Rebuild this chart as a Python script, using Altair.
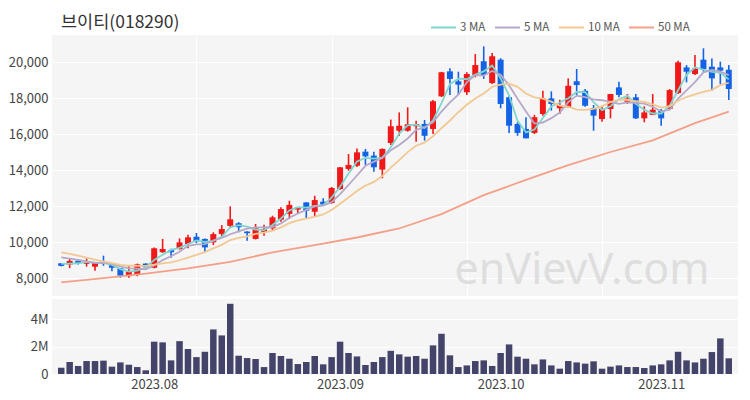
import altair as alt
import pandas as pd

# ---------------- data ----------------
opens = [8820, 8750, 8950, 8790, 8630, 8900, 8740, 8540, 8100, 8220,
         8800, 8570, 9430, 9560, 9610, 9890, 10290, 10170, 9980, 10440,
         10900, 11040, 10580, 10170, 10570, 10760, 11240, 11560, 11800, 12200,
         11680, 12240, 12170, 12940, 14060, 14240, 15020, 14800, 14020, 15500,
         16180, 16180, 16430, 16560, 16280, 18090, 19480, 18930, 18320, 19280,
         20040, 18830, 20130, 18040, 16560, 16280, 16060, 17110, 17980, 17430,
         17480, 18930, 18400, 17430, 16830, 17390, 18590, 17790, 18040, 16870,
         17060, 17290, 17390, 18280, 19700, 19330, 20130, 19740, 19700, 19570]
highs = [8830, 9100, 9020, 9090, 8850, 9240, 8760, 8560, 8680, 8800,
         8820, 9700, 10170, 9620, 10200, 10400, 10500, 10200, 10540, 10940,
         11980, 11100, 10600, 11000, 10960, 11460, 11930, 12290, 11950, 12210,
         12570, 12430, 13060, 14170, 14890, 15200, 15170, 15020, 15200, 16800,
         17200, 17480, 16740, 16780, 17890, 19450, 19650, 19460, 19430, 20440,
         20870, 20500, 20210, 18130, 16650, 16930, 17060, 18400, 18370, 17900,
         19090, 19610, 18500, 17610, 17570, 18230, 18900, 18220, 18220, 17540,
         18220, 17390, 18500, 20070, 19830, 20390, 20760, 20200, 20020, 19830]
lows = [8650, 8550, 8750, 8630, 8400, 8680, 8370, 8020, 8020, 8100,
        8520, 8540, 9400, 9130, 9570, 9650, 9940, 9430, 9830, 10220,
        10820, 10540, 10070, 10140, 10350, 10630, 11130, 11280, 11560, 11320,
        11430, 12010, 12120, 12900, 13960, 14170, 14280, 13900, 13540, 15390,
        15900, 16130, 15570, 15630, 16000, 18060, 18170, 18170, 18170, 19150,
        19060, 18780, 17430, 16050, 15900, 15760, 16000, 17020, 17300, 17110,
        17480, 18170, 17520, 16180, 16680, 16870, 18040, 17670, 16830, 16650,
        17050, 16460, 17350, 18220, 18870, 19280, 19460, 18400, 18780, 17890]
closes = [8670, 8950, 8830, 8900, 8830, 8780, 8570, 8130, 8350, 8760,
          8600, 9650, 9610, 9430, 9980, 10260, 10040, 9700, 10440, 10720,
          11260, 10820, 10490, 10760, 10720, 11370, 11830, 12060, 11930, 11740,
          12330, 12070, 13000, 14150, 14280, 14980, 14760, 14150, 15170, 16430,
          16460, 16540, 16555, 15900, 17820, 19430, 19060, 18740, 19330, 19830,
          19280, 20320, 17670, 16460, 16060, 15760, 16930, 17980, 17670, 17610,
          18680, 18720, 17570, 17020, 17390, 18220, 18170, 17980, 16870, 17200,
          17350, 16870, 18440, 19980, 19460, 19650, 19610, 19090, 19520, 18500]
volumes_m = [0.46, 0.88, 0.59, 0.95, 0.95, 0.98, 0.54, 0.85, 0.68, 0.51,
             0.27, 2.37, 2.32, 1.0, 2.41, 1.83, 1.24, 1.63, 3.27, 2.83,
             5.15, 1.34, 1.17, 1.1, 0.51, 1.54, 1.32, 1.12, 0.73, 0.88,
             1.32, 0.71, 1.24, 2.37, 1.54, 1.29, 0.66, 0.88, 1.24, 1.7,
             1.44, 1.27, 1.32, 1.12, 2.1, 2.95, 1.37, 0.51, 0.63, 0.95,
             1.0, 0.59, 1.54, 2.17, 1.27, 1.12, 0.71, 1.07, 0.63, 0.39,
             0.95, 0.85, 0.76, 0.93, 0.39, 0.54, 0.63, 0.51, 0.51, 0.44,
             0.63, 0.71, 1.0, 1.63, 1.0, 0.85, 1.12, 1.61, 2.61, 1.15]

# moving-average values at the left edge (window reaches before the shown range)
ma3_head = [8780, 8800, 8820]
ma5_head = [9150, 9080, 9000, 8920, 8840]
ma10_head = [9430, 9340, 9240, 9130, 9020, 8920, 8820, 8730, 8680, 8680]
# 50-day MA
ma50_idx = [0, 5, 10, 15, 20, 25, 30, 35, 40, 45, 50, 55, 60, 65, 70, 75, 79]
ma50_val = [7760, 7990, 8240, 8530, 8900, 9420, 9830, 10250, 10750, 11550,
            12600, 13450, 14270, 15000, 15650, 16600, 17240]

tick_idx = [11, 33, 52, 71]
tick_labels = ["2023.08", "2023.09", "2023.10", "2023.11"]
grid_idx = [16, 32, 48, 64]

ma_names = ["3 MA", "5 MA", "10 MA", "50 MA"]
ma_colors = ["#7fd6cf", "#b6a8c9", "#f2c893", "#f4a089"]
ma_windows = [3, 5, 10]
ma_heads = [ma3_head, ma5_head, ma10_head]

title_text = "브이티(018290)"
watermark = "enVievV.com"

# ---------------- styling ----------------
FONT = "Noto Sans CJK KR"
RED = "#f01818"
BLUE = "#1463e4"
VOL = "#44446a"
N = len(closes)
W = 686

candles = pd.DataFrame({"i": list(range(N)), "open": opens, "high": highs,
                        "low": lows, "close": closes})
vol = pd.DataFrame({"i": list(range(N)), "vol": [v * 1e6 for v in volumes_m]})

x_scale = alt.Scale(domain=[-0.5, N - 0.5], nice=False, zero=False)
y_scale = alt.Scale(domain=[7000, 21500], nice=False, zero=False)
updown = alt.condition("datum.close >= datum.open", alt.value(RED), alt.value(BLUE))

x_top = alt.X("i:Q", scale=x_scale, title=None,
              axis=alt.Axis(values=grid_idx, labels=False, ticks=False,
                            domain=False, grid=True))
color_enc = alt.Color("ma:N", scale=alt.Scale(domain=ma_names, range=ma_colors),
                      legend=alt.Legend(orient="none", legendX=378, legendY=-21,
                                        direction="horizontal", title=None,
                                        symbolType="stroke", symbolSize=625,
                                        symbolStrokeWidth=2, labelFontSize=11.5,
                                        labelColor="#555", labelFont=FONT,
                                        columnPadding=5, labelOffset=3))

base = alt.Chart(candles)

wm = alt.Chart(pd.DataFrame({"t": [watermark]})).mark_text(
    fontSize=43, color="#dedede", font="Noto Sans", align="center", baseline="middle"
).encode(text="t:N", x=alt.value(530), y=alt.value(236))

wick = base.mark_rule(strokeWidth=1.6).encode(
    x=x_top,
    y=alt.Y("low:Q", scale=y_scale, title=None,
            axis=alt.Axis(values=list(range(8000, 20001, 2000)), format=",d", grid=True)),
    y2="high:Q",
    color=updown)
body = base.mark_bar(size=6).encode(
    x=x_top, y=alt.Y("open:Q", scale=y_scale, title=None), y2="close:Q", color=updown)

layers = [wm, wick, body]
for name, n, head in zip(ma_names[:3], ma_windows, ma_heads):
    line_w = base.transform_window(
        ma_val="mean(close)", frame=[-(n - 1), 0], sort=[alt.SortField("i")]
    ).transform_filter(f"datum.i >= {n - 1}").transform_calculate(
        ma=f"'{name}'"
    ).mark_line(strokeWidth=1.8).encode(
        x=x_top, y=alt.Y("ma_val:Q", scale=y_scale, title=None), color=color_enc)
    head_df = pd.DataFrame({"i": list(range(len(head))), "ma_val": head, "ma": name})
    line_h = alt.Chart(head_df).mark_line(strokeWidth=1.8).encode(
        x=x_top, y=alt.Y("ma_val:Q", scale=y_scale, title=None), color=color_enc)
    layers += [line_h, line_w]

ma50_df = pd.DataFrame({"i": ma50_idx, "ma_val": ma50_val, "ma": "50 MA"})
layers.append(alt.Chart(ma50_df).mark_line(strokeWidth=1.8).encode(
    x=x_top, y=alt.Y("ma_val:Q", scale=y_scale, title=None), color=color_enc))

top = alt.layer(*layers).properties(
    width=W, height=261,
    title=alt.TitleParams(title_text, anchor="start", frame="group", dx=9,
                          fontSize=17.5, fontWeight="normal", color="#333",
                          font=FONT, offset=4),
)

label_expr = " : ".join(f"datum.value == {i} ? '{l}'" for i, l in zip(tick_idx, tick_labels)) + " : ''"
vol_chart = alt.Chart(vol).mark_bar(size=6.5, color=VOL).encode(
    x=alt.X("i:Q", scale=x_scale, title=None,
            axis=alt.Axis(values=tick_idx, labelExpr=label_expr, grid=False,
                          ticks=False, domain=False, labelPadding=4)),
    y=alt.Y("vol:Q", scale=alt.Scale(domain=[0, 5.5e6], nice=False), title=None,
            axis=alt.Axis(values=[0, 2e6, 4e6],
                          labelExpr="datum.value == 0 ? '0' : format(datum.value / 1e6, 'd') + 'M'",
                          grid=True))
).properties(width=W, height=75)

chart = alt.vconcat(top, vol_chart, spacing=3).properties(
    padding={"left": 0, "top": 5, "right": 2, "bottom": 2},
).configure_view(fill="#f5f5f5", stroke=None).configure_axis(
    gridColor="#ffffff", gridWidth=1, domain=False, ticks=False,
    labelFont=FONT, labelColor="#444", labelFontSize=13, labelPadding=4
)

chart.save("out.html", embed_options={"renderer": "svg", "actions": False})
